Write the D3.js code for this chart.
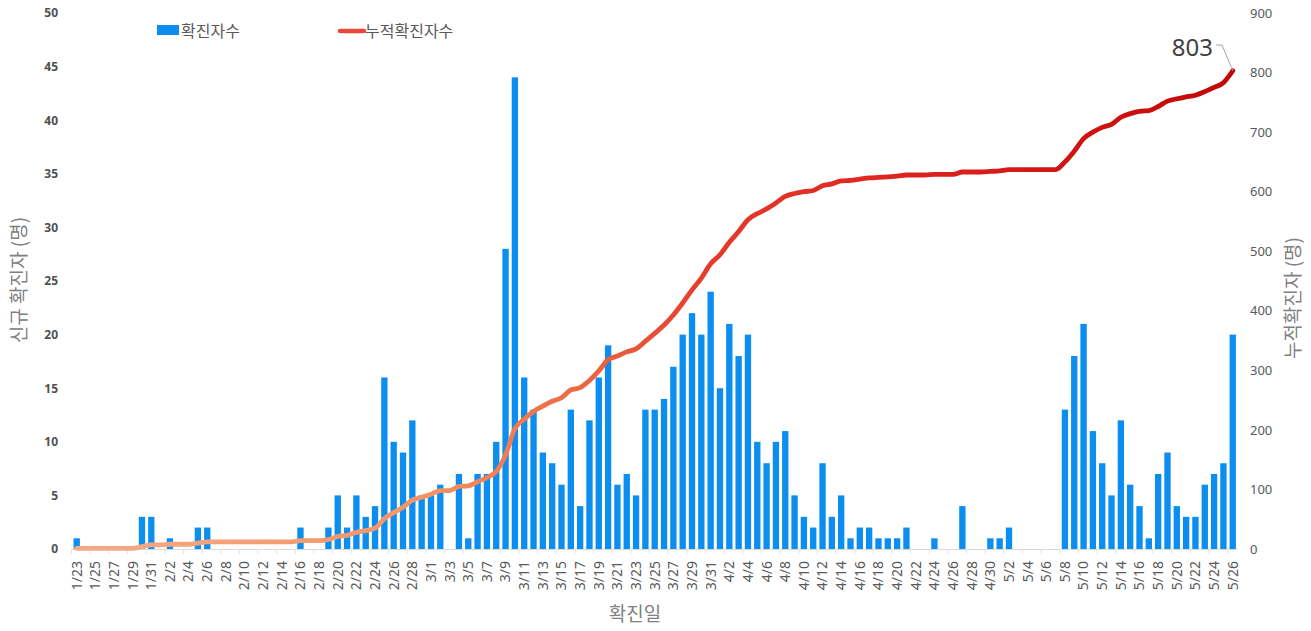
<!DOCTYPE html>
<html><head><meta charset="utf-8">
<script src="https://cdn.jsdelivr.net/npm/d3@7"></script>
<style>
html,body{margin:0;padding:0;background:#fff;}
svg{display:block;font-family:"Noto Sans CJK KR","Noto Sans",sans-serif;}
</style></head>
<body>
<svg id="chart" width="1311" height="631"></svg>
<script>
// Dates (every day from 1/23 to 5/26)
const dates = [
 "1/23","1/24","1/25","1/26","1/27","1/28","1/29","1/30","1/31",
 "2/1","2/2","2/3","2/4","2/5","2/6","2/7","2/8","2/9","2/10","2/11","2/12","2/13","2/14","2/15","2/16","2/17","2/18","2/19","2/20","2/21","2/22","2/23","2/24","2/25","2/26","2/27","2/28","2/29",
 "3/1","3/2","3/3","3/4","3/5","3/6","3/7","3/8","3/9","3/10","3/11","3/12","3/13","3/14","3/15","3/16","3/17","3/18","3/19","3/20","3/21","3/22","3/23","3/24","3/25","3/26","3/27","3/28","3/29","3/30","3/31",
 "4/1","4/2","4/3","4/4","4/5","4/6","4/7","4/8","4/9","4/10","4/11","4/12","4/13","4/14","4/15","4/16","4/17","4/18","4/19","4/20","4/21","4/22","4/23","4/24","4/25","4/26","4/27","4/28","4/29","4/30",
 "5/1","5/2","5/3","5/4","5/5","5/6","5/7","5/8","5/9","5/10","5/11","5/12","5/13","5/14","5/15","5/16","5/17","5/18","5/19","5/20","5/21","5/22","5/23","5/24","5/25","5/26"
];
// 확진자수 (daily new cases)
const daily = [
 1,0,0,0,0,0,0,3,3,
 0,1,0,0,2,2,0,0,0,0,0,0,0,0,0,2,0,0,2,5,2,5,3,4,16,10,9,12,5,
 5,6,0,7,1,7,7,10,28,44,16,13,9,8,6,13,4,12,16,19,6,7,5,13,13,14,17,20,22,20,24,
 15,21,18,20,10,8,10,11,5,3,2,8,3,5,1,2,2,1,1,1,2,0,0,1,0,0,4,0,0,1,
 1,2,0,0,0,0,0,13,18,21,11,8,5,12,6,4,1,7,9,4,3,3,6,7,8,20
];
// 누적확진자수 (cumulative cases)
const cumulative = [
 1,1,1,1,1,1,1,4,7,
 7,8,8,8,10,12,12,12,12,12,12,12,12,12,12,14,14,14,16,21,23,28,31,35,51,61,70,82,87,
 92,98,98,105,106,113,120,130,158,202,218,231,240,248,254,267,271,283,299,318,324,331,336,349,362,376,393,413,435,455,479,
 494,515,533,553,563,571,581,592,597,600,602,610,613,618,619,621,623,624,625,626,628,628,628,629,629,629,633,633,633,634,
 635,637,637,637,637,637,637,650,668,689,700,708,713,725,731,735,736,743,752,756,759,762,768,775,783,803
];
const leftTicks = [0,5,10,15,20,25,30,35,40,45,50];
const rightTicks = [0,100,200,300,400,500,600,700,800,900];
const seriesNames = ["확진자수","누적확진자수"];
const axisTitles = {left:"신규 확진자 (명)", right:"누적확진자 (명)", bottom:"확진일"};
const endLabel = "803";

const svg = d3.select("#chart");
const x0 = 72.05, x1 = 1237.4, yTop = 13, yBase = 549;
const x = d3.scaleBand().domain(dates).range([x0, x1]).paddingInner(0.32).paddingOuter(0.16);
const yL = d3.scaleLinear().domain([0,50]).range([yBase, yTop]);
const yR = d3.scaleLinear().domain([0,900]).range([yBase, yTop]);

const defs = svg.append("defs");
const grad = defs.append("linearGradient").attr("id","lineGrad")
  .attr("gradientUnits","userSpaceOnUse").attr("x1",x0).attr("x2",x1).attr("y1",0).attr("y2",0);
[[0,"#f6ab88"],[0.3,"#f39468"],[0.42,"#ee6e46"],[0.55,"#e63a2a"],[0.75,"#da1f1c"],[1,"#c20606"]]
  .forEach(([o,c])=>grad.append("stop").attr("offset",o).attr("stop-color",c));

// baseline
svg.append("line").attr("x1",x0).attr("x2",x1).attr("y1",yBase+0.5).attr("y2",yBase+0.5)
  .attr("stroke","#d9d9d9").attr("stroke-width",1);
// tick marks every 2 categories
const step = x.step();
dates.forEach((d,i)=>{
  if(i%2===0){
    const xx = x(d) - x.paddingInner()*step/2 - 0.5;
    svg.append("line").attr("x1",xx).attr("x2",xx).attr("y1",yBase).attr("y2",yBase+5)
      .attr("stroke","#e3e3e3").attr("stroke-width",1);
  }
});

// bars
svg.append("g").selectAll("rect").data(dates).join("rect")
  .attr("x",d=>x(d)).attr("width",x.bandwidth())
  .attr("y",(d,i)=>yL(daily[i])).attr("height",(d,i)=>yBase-yL(daily[i]))
  .attr("fill","#0b8ef0");

// line
const cx = d=>x(d)+x.bandwidth()/2;
const line = d3.line().x((d,i)=>cx(dates[i])).y(d=>yR(d)).curve(d3.curveMonotoneX);
svg.append("path").datum(cumulative).attr("d",line).attr("fill","none")
  .attr("stroke","url(#lineGrad)").attr("stroke-width",4.8).attr("stroke-linejoin","round").attr("stroke-linecap","round");

// left axis
const gL = svg.append("g").attr("transform",`translate(58,0)`)
  .call(d3.axisLeft(yL).tickValues(leftTicks).tickSize(0).tickPadding(0));
gL.select(".domain").remove();
gL.selectAll("text").attr("font-size",12).attr("font-weight","bold").attr("fill","#505050")
  .attr("font-family","'Noto Sans','DejaVu Sans',sans-serif");

// right axis
const gR = svg.append("g").attr("transform",`translate(1250,0)`)
  .call(d3.axisRight(yR).tickValues(rightTicks).tickSize(0).tickPadding(0));
gR.select(".domain").remove();
gR.selectAll("text").attr("font-size",13).attr("fill","#595959")
  .attr("font-family","'Noto Sans','DejaVu Sans',sans-serif");

// x axis labels (every other date)
const gX = svg.append("g").attr("transform",`translate(0,${yBase})`)
  .call(d3.axisBottom(x).tickValues(dates.filter((d,i)=>i%2===0)).tickSize(0).tickPadding(0));
gX.select(".domain").remove();
gX.selectAll("text").attr("font-size",14).attr("fill","#595959")
  .attr("font-family","'Noto Sans','DejaVu Sans',sans-serif")
  .attr("transform","rotate(-90)").attr("text-anchor","end")
  .attr("x",-12).attr("y",0).attr("dy","0.35em");

// axis titles
svg.append("text").attr("transform","translate(26,280) rotate(-90)").attr("text-anchor","middle")
  .attr("font-size",19).attr("fill","#808080").text(axisTitles.left);
svg.append("text").attr("transform","translate(1300,298) rotate(-90)").attr("text-anchor","middle")
  .attr("font-size",19).attr("fill","#808080").text(axisTitles.right);
svg.append("text").attr("x",635).attr("y",621).attr("text-anchor","middle")
  .attr("font-size",19).attr("fill","#808080").text(axisTitles.bottom);

// legend
svg.append("rect").attr("x",157).attr("y",25).attr("width",22).attr("height",10).attr("fill","#0b8ef0");
svg.append("text").attr("x",181).attr("y",37).attr("font-size",16).attr("fill","#595959").text(seriesNames[0]);
svg.append("line").attr("x1",340).attr("x2",364).attr("y1",31).attr("y2",31)
  .attr("stroke","#e8473a").attr("stroke-width",4.5).attr("stroke-linecap","round");
svg.append("text").attr("x",365).attr("y",37).attr("font-size",16).attr("fill","#595959").text(seriesNames[1]);

// end label with leader
const lastI = dates.length-1;
const ex = cx(dates[lastI]), ey = yR(cumulative[lastI]);
svg.append("polyline").attr("points",`1216,45 1222,45 ${ex},${ey}`)
  .attr("fill","none").attr("stroke","#a6a6a6").attr("stroke-width",1);
svg.append("text").attr("x",1213).attr("y",56).attr("text-anchor","end")
  .attr("font-size",24).attr("fill","#404040")
  .attr("font-family","'Noto Sans','DejaVu Sans',sans-serif").text(endLabel);
</script>
</body></html>
